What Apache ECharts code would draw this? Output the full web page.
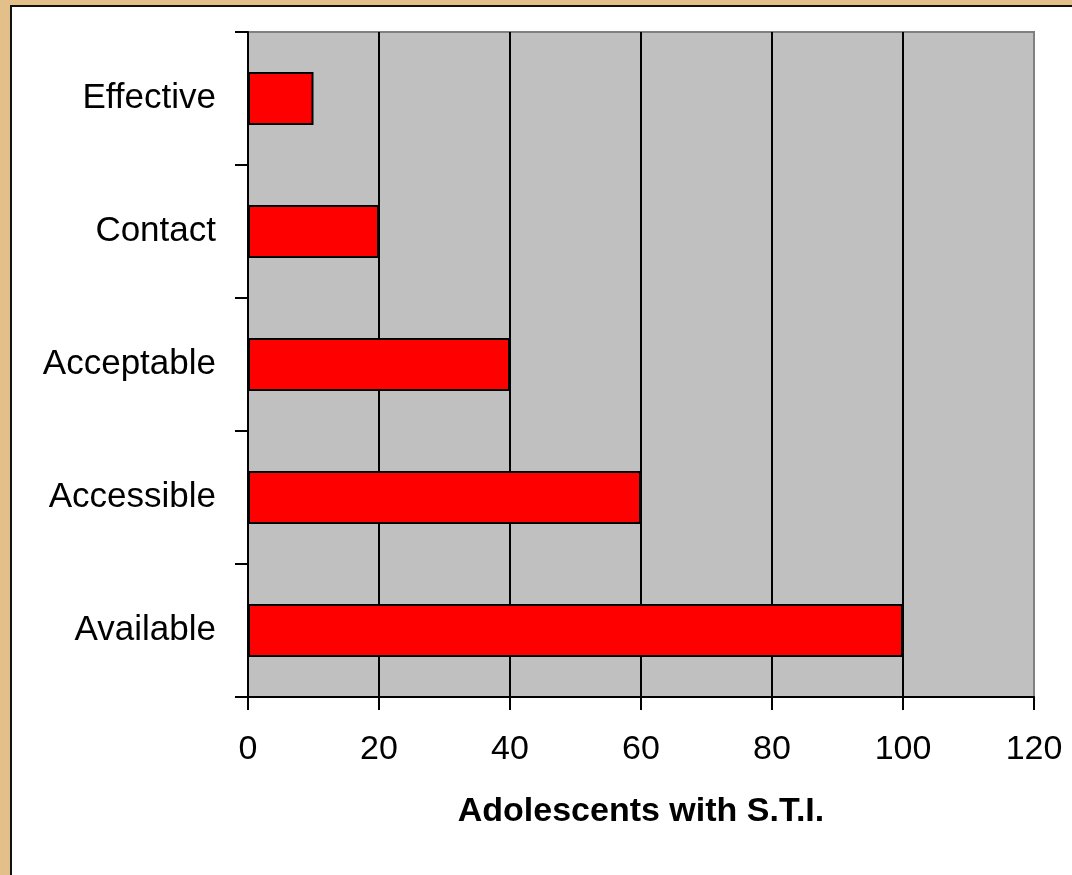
<!DOCTYPE html>
<html>
<head>
<meta charset="utf-8">
<script src="https://cdn.jsdelivr.net/npm/echarts@6/dist/echarts.min.js"></script>
<style>
html,body{margin:0;padding:0;width:1072px;height:875px;overflow:hidden;background:#E3C08A;}
#frame{position:absolute;left:10px;top:5px;width:1072px;height:880px;background:#fff;border-left:2px solid #111;border-top:2px solid #111;}
#chart{position:absolute;left:0;top:0;width:1072px;height:875px;}
</style>
</head>
<body>
<div id="frame"></div>
<div id="chart"></div>
<script>
const categories = ['Available', 'Accessible', 'Acceptable', 'Contact', 'Effective'];
const values = [100, 60, 40, 20, 10];
const xTicks = { min: 0, max: 120, interval: 20 };
const xAxisName = 'Adolescents with S.T.I.';

const chart = echarts.init(document.getElementById('chart'), null, { renderer: 'canvas' });
const font = 'Liberation Sans, Arial, sans-serif';
chart.setOption({
  backgroundColor: 'transparent',
  animation: false,
  grid: {
    left: 248, top: 32, right: 38, bottom: 178,
    show: true, backgroundColor: '#C0C0C0', borderColor: '#808080', borderWidth: 2
  },
  xAxis: {
    type: 'value', min: xTicks.min, max: xTicks.max, interval: xTicks.interval,
    name: xAxisName, nameLocation: 'middle', nameGap: 98,
    nameTextStyle: { fontFamily: font, fontSize: 34, fontWeight: 'bold', color: '#000' },
    axisLine: { show: true, lineStyle: { color: '#000', width: 2 } },
    axisTick: { show: true, length: 13, lineStyle: { color: '#000', width: 2 } },
    axisLabel: { fontFamily: font, fontSize: 34, color: '#000', margin: 36 },
    splitLine: { show: true, showMinLine: false, showMaxLine: false, lineStyle: { color: '#000', width: 2 } }
  },
  yAxis: {
    type: 'category', data: categories,
    axisLine: { show: true, lineStyle: { color: '#000', width: 2 } },
    axisTick: { show: true, length: 13, alignWithLabel: false, lineStyle: { color: '#000', width: 2 } },
    axisLabel: { fontFamily: font, fontSize: 35, color: '#000', margin: 32 },
    splitLine: { show: false }
  },
  series: [{
    type: 'bar', data: values, barCategoryGap: '60%',
    itemStyle: { color: '#FF0000', borderColor: '#000', borderWidth: 2 }
  }]
});
</script>
</body>
</html>
